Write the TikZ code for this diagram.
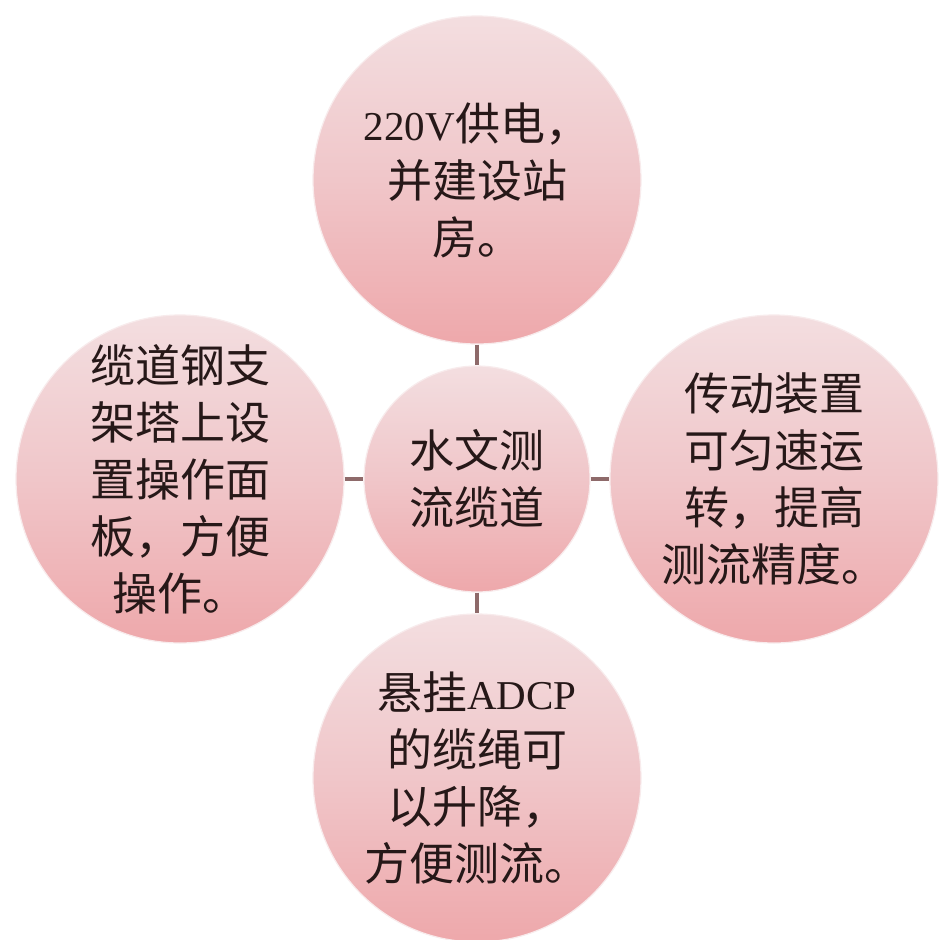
\documentclass[tikz,border=0pt]{standalone}
\usepackage{fontspec}
\setmainfont{Liberation Serif}
\newfontfamily\cjk{Noto Sans CJK SC}
\newcommand{\lat}[1]{{\rmfamily\fontsize{41}{57}\selectfont #1}}
\definecolor{bubbletop}{RGB}{243,222,224}
\definecolor{bubblemid}{RGB}{240,198,201}
\definecolor{bubblebot}{RGB}{238,168,171}
\definecolor{linkcol}{RGB}{142,106,106}
\definecolor{inkcol}{RGB}{38,24,24}
\tikzset{
  bubble/.style={circle, inner sep=0pt, draw=bubbletop!60!white, line width=1.2pt,
    top color=bubbletop, bottom color=bubblebot, middle color=bubblemid,
    text=inkcol, align=center, font=\cjk\fontsize{45}{57}\selectfont},
  bigbubble/.style={bubble, minimum size=328pt},
  hubbubble/.style={bubble, minimum size=226pt},
  link/.style={draw=linkcol, line width=4pt}
}
\begin{document}
\begin{tikzpicture}[x=1pt,y=-1pt]
\useasboundingbox[fill=white] (0,0) rectangle (938,940);
\node[hubbubble] (hub) at (477,479) {水文测\\流缆道};
\node[bigbubble] (top) at (477,180) {\lat{220V}供电，\\并建设站\\房。};
\node[bigbubble] (left) at (180,479) {缆道钢支\\架塔上设\\置操作面\\板，方便\\操作。};
\node[bigbubble] (right) at (774,479) {传动装置\\可匀速运\\转，提高\\测流精度。};
\node[bigbubble] (bottom) at (477,778) {悬挂\lat{ADCP}\\的缆绳可\\以升降，\\方便测流。};
\draw[link] (top.south) -- (hub.north);
\draw[link] (hub.south) -- (bottom.north);
\draw[link] (left.east) -- (hub.west);
\draw[link] (hub.east) -- (right.west);
\end{tikzpicture}
\end{document}
